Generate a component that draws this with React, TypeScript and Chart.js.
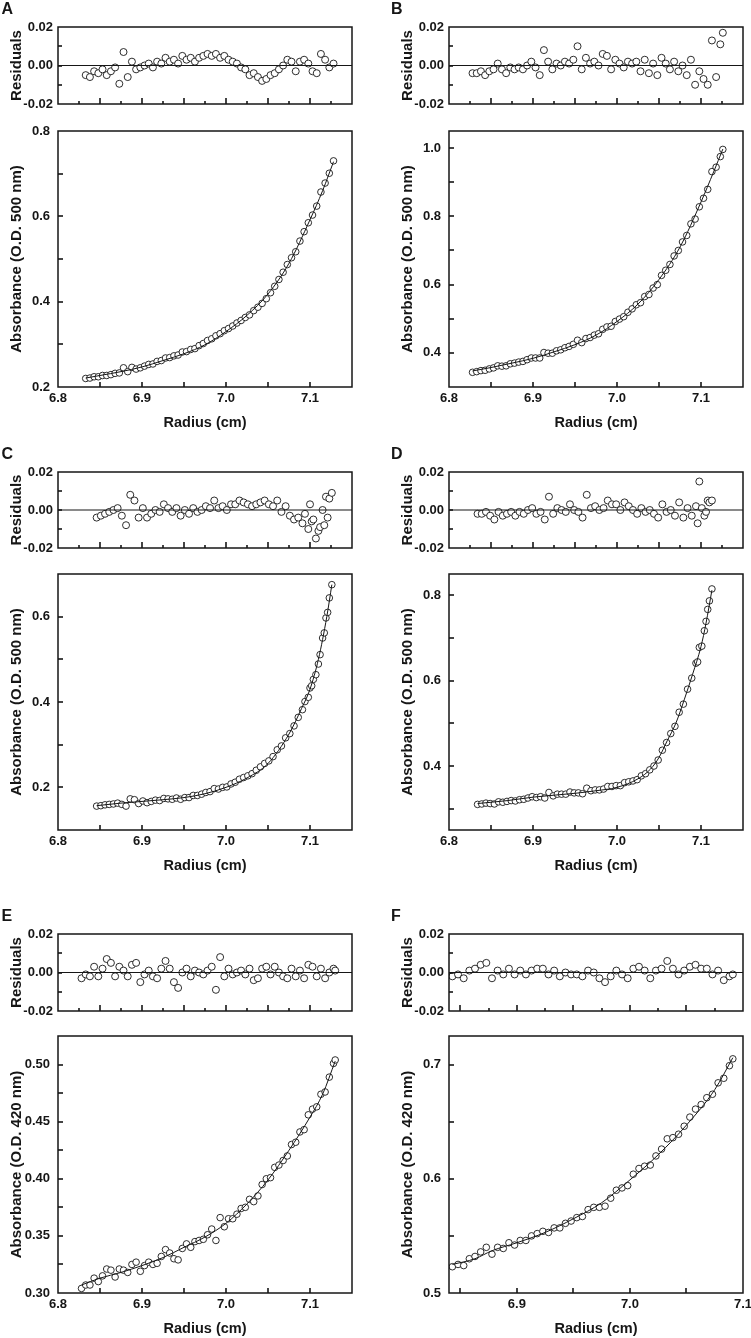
import React, { useEffect, useRef } from "react";
import { Chart, registerables } from "chart.js";

Chart.register(...registerables);

const FONT = 'Arial, "Liberation Sans", Helvetica, sans-serif';
const INK = "#161616";

// ---------- shared axis ticks ----------
const X_TICKS_MAIN = [6.8, 6.85, 6.9, 6.95, 7.0, 7.05, 7.1, 7.15];
const X_LABELS_MAIN = [6.8, 6.9, 7.0, 7.1];
const X_MAJOR_RES = [6.8, 6.85, 6.9, 6.95, 7.0, 7.05, 7.1, 7.15];
const X_MINOR_RES = [6.825, 6.875, 6.925, 6.975, 7.025, 7.075, 7.125];
const F_X_TICKS_MAIN = [6.85, 6.9, 6.95, 7.0, 7.05, 7.1];
const F_X_LABELS = [6.9, 7.0, 7.1];
const F_X_MAJOR_RES = [6.85, 6.9, 6.95, 7.0, 7.05, 7.1];
const F_X_MINOR_RES = [6.875, 6.925, 6.975, 7.025, 7.075];
const RES_Y_TICKS = [-0.02, -0.01, 0, 0.01, 0.02];
const RES_Y_LABELS = [-0.02, 0, 0.02];

// ---------- Panel A ----------
const A_RADIUS = [6.833, 6.838, 6.843, 6.848, 6.853, 6.858, 6.863, 6.868, 6.873, 6.878,
  6.883, 6.888, 6.893, 6.898, 6.903, 6.908, 6.913, 6.918, 6.923, 6.928,
  6.933, 6.938, 6.943, 6.948, 6.953, 6.958, 6.963, 6.968, 6.973, 6.978,
  6.983, 6.988, 6.993, 6.998, 7.003, 7.008, 7.013, 7.018, 7.023, 7.028,
  7.033, 7.038, 7.043, 7.048, 7.053, 7.058, 7.063, 7.068, 7.073, 7.078,
  7.083, 7.088, 7.093, 7.098, 7.103, 7.108, 7.113, 7.118, 7.123, 7.128];
const A_RESIDUALS = [-0.005, -0.006, -0.003, -0.004, -0.002, -0.005, -0.003, -0.001, -0.0095, 0.007,
  -0.006, 0.002, -0.002, -0.001, 0.0, 0.001, -0.001, 0.002, 0.001, 0.004,
  0.002, 0.003, 0.001, 0.005, 0.003, 0.004, 0.002, 0.004, 0.005, 0.006,
  0.005, 0.006, 0.004, 0.005, 0.003, 0.002, 0.001, -0.001, -0.002, -0.005,
  -0.004, -0.006, -0.008, -0.007, -0.005, -0.004, -0.002, 0.0, 0.003, 0.002,
  -0.003, 0.002, 0.003, 0.001, -0.003, -0.004, 0.006, 0.003, -0.001, 0.001];
const A_ABSORBANCE = [0.220, 0.221, 0.224, 0.224, 0.227, 0.227, 0.229, 0.232, 0.233, 0.245,
  0.236, 0.246, 0.242, 0.245, 0.249, 0.253, 0.254, 0.260, 0.262, 0.268,
  0.269, 0.273, 0.275, 0.282, 0.283, 0.288, 0.290, 0.297, 0.302, 0.309,
  0.313, 0.320, 0.325, 0.332, 0.337, 0.343, 0.350, 0.356, 0.363, 0.369,
  0.379, 0.387, 0.396, 0.407, 0.421, 0.436, 0.452, 0.469, 0.487, 0.503,
  0.517, 0.542, 0.564, 0.585, 0.603, 0.624, 0.657, 0.678, 0.701, 0.730];
const A_FIT_RADIUS = [6.833, 6.85, 6.875, 6.9, 6.925, 6.95, 6.975, 7.0, 7.025, 7.05, 7.075, 7.1, 7.115, 7.128];
const A_FIT_ABSORBANCE = [0.221, 0.227, 0.236, 0.247, 0.262, 0.278, 0.299, 0.330, 0.368, 0.418, 0.49, 0.592, 0.66, 0.728];
const A_Y_TICKS = [0.2, 0.3, 0.4, 0.5, 0.6, 0.7, 0.8];
const A_Y_LABELS = [0.2, 0.4, 0.6, 0.8];

// ---------- Panel B ----------
const B_RADIUS = [6.828, 6.833, 6.838, 6.843, 6.848, 6.853, 6.858, 6.863, 6.868, 6.873,
  6.878, 6.883, 6.888, 6.893, 6.898, 6.903, 6.908, 6.913, 6.918, 6.923,
  6.928, 6.933, 6.938, 6.943, 6.948, 6.953, 6.958, 6.963, 6.968, 6.973,
  6.978, 6.983, 6.988, 6.993, 6.998, 7.003, 7.008, 7.013, 7.018, 7.023,
  7.028, 7.033, 7.038, 7.043, 7.048, 7.053, 7.058, 7.063, 7.068, 7.073,
  7.078, 7.083, 7.088, 7.093, 7.098, 7.103, 7.108, 7.113, 7.118, 7.123, 7.126];
const B_RESIDUALS = [-0.004, -0.004, -0.003, -0.005, -0.003, -0.002, 0.001, -0.002, -0.004, -0.001,
  -0.002, -0.001, -0.002, 0.0, 0.002, -0.001, -0.005, 0.008, 0.002, -0.002,
  0.001, 0.0, 0.002, 0.001, 0.003, 0.010, -0.002, 0.004, 0.001, 0.002,
  0.0, 0.006, 0.005, -0.002, 0.003, 0.001, -0.001, 0.002, 0.001, 0.002,
  -0.003, 0.003, -0.004, 0.001, -0.005, 0.004, 0.001, -0.002, 0.002, -0.003,
  0.0, -0.005, 0.003, -0.010, -0.003, -0.007, -0.010, 0.013, -0.006, 0.011, 0.017];
const B_ABSORBANCE = [0.343, 0.345, 0.348, 0.349, 0.353, 0.356, 0.362, 0.361, 0.362, 0.368,
  0.370, 0.373, 0.375, 0.380, 0.385, 0.385, 0.385, 0.401, 0.399, 0.399,
  0.406, 0.409, 0.415, 0.419, 0.425, 0.437, 0.430, 0.442, 0.445, 0.452,
  0.456, 0.469, 0.476, 0.478, 0.492, 0.499, 0.506, 0.519, 0.529, 0.541,
  0.547, 0.565, 0.571, 0.590, 0.600, 0.627, 0.642, 0.659, 0.684, 0.700,
  0.725, 0.744, 0.778, 0.792, 0.828, 0.853, 0.879, 0.931, 0.944, 0.975, 0.996];
const B_FIT_RADIUS = [6.828, 6.85, 6.875, 6.9, 6.925, 6.95, 6.975, 7.0, 7.025, 7.05, 7.075, 7.1, 7.115, 7.126];
const B_FIT_ABSORBANCE = [0.347, 0.357, 0.370, 0.384, 0.403, 0.424, 0.452, 0.492, 0.543, 0.615, 0.71, 0.842, 0.93, 0.997];
const B_Y_TICKS = [0.3, 0.4, 0.5, 0.6, 0.7, 0.8, 0.9, 1.0];
const B_Y_LABELS = [0.4, 0.6, 0.8, 1.0];

// ---------- Panel C ----------
const C_RADIUS = [6.846, 6.851, 6.856, 6.861, 6.866, 6.871, 6.876, 6.881, 6.886, 6.891,
  6.896, 6.901, 6.906, 6.911, 6.916, 6.921, 6.926, 6.931, 6.936, 6.941,
  6.946, 6.951, 6.956, 6.961, 6.966, 6.971, 6.976, 6.981, 6.986, 6.991,
  6.996, 7.001, 7.006, 7.011, 7.016, 7.021, 7.026, 7.031, 7.036, 7.041,
  7.046, 7.051, 7.056, 7.061, 7.066, 7.071, 7.076, 7.081, 7.086,
  7.091, 7.094, 7.098, 7.100, 7.102, 7.104, 7.107, 7.110, 7.112, 7.115, 7.117, 7.119, 7.121, 7.123, 7.126];
const C_RESIDUALS = [-0.004, -0.003, -0.002, -0.001, 0.0, 0.001, -0.003, -0.008, 0.008, 0.005,
  -0.004, 0.001, -0.004, -0.002, 0.0, -0.001, 0.003, 0.001, -0.001, 0.001,
  -0.003, 0.0, -0.002, 0.001, -0.001, 0.0, 0.002, 0.001, 0.005, 0.001,
  0.002, 0.0, 0.003, 0.003, 0.005, 0.004, 0.003, 0.002, 0.003, 0.004,
  0.005, 0.003, 0.002, 0.005, -0.001, 0.002, -0.003, -0.005, -0.004,
  -0.007, -0.002, -0.010, 0.003, -0.006, -0.005, -0.015, -0.011, -0.009, 0.0, -0.008, 0.007, -0.004, 0.006, 0.009];
const C_ABSORBANCE = [0.156, 0.157, 0.159, 0.160, 0.161, 0.163, 0.160, 0.156, 0.173, 0.171,
  0.162, 0.168, 0.164, 0.167, 0.170, 0.169, 0.174, 0.173, 0.172, 0.175,
  0.172, 0.176, 0.176, 0.181, 0.181, 0.184, 0.188, 0.190, 0.197, 0.196,
  0.200, 0.201, 0.208, 0.212, 0.219, 0.223, 0.227, 0.232, 0.240, 0.248,
  0.256, 0.262, 0.272, 0.288, 0.297, 0.316, 0.326, 0.344, 0.364,
  0.382, 0.401, 0.411, 0.433, 0.438, 0.453, 0.464, 0.489, 0.511, 0.550, 0.562, 0.597, 0.610, 0.644, 0.675];
const C_FIT_RADIUS = [6.846, 6.875, 6.9, 6.925, 6.95, 6.975, 7.0, 7.025, 7.05, 7.075, 7.09, 7.1, 7.11, 7.12, 7.126];
const C_FIT_ABSORBANCE = [0.157, 0.163, 0.167, 0.171, 0.176, 0.185, 0.200, 0.222, 0.256, 0.325, 0.385, 0.43, 0.50, 0.60, 0.675];
const C_Y_TICKS = [0.1, 0.2, 0.3, 0.4, 0.5, 0.6, 0.7];
const C_Y_LABELS = [0.2, 0.4, 0.6];

// ---------- Panel D ----------
const D_RADIUS = [6.834, 6.839, 6.844, 6.849, 6.854, 6.859, 6.864, 6.869, 6.874, 6.879,
  6.884, 6.889, 6.894, 6.899, 6.904, 6.909, 6.914, 6.919, 6.924, 6.929,
  6.934, 6.939, 6.944, 6.949, 6.954, 6.959, 6.964, 6.969, 6.974, 6.979,
  6.984, 6.989, 6.994, 6.999, 7.004, 7.009, 7.014, 7.019, 7.024, 7.029,
  7.034, 7.039, 7.044, 7.049, 7.054, 7.059, 7.064, 7.069, 7.074, 7.079,
  7.084, 7.089, 7.094,
  7.096, 7.098, 7.101, 7.104, 7.106, 7.108, 7.110, 7.113];
const D_RESIDUALS = [-0.002, -0.002, -0.001, -0.003, -0.005, -0.001, -0.003, -0.002, -0.001, -0.003,
  -0.001, -0.002, 0.0, 0.001, -0.002, -0.001, -0.005, 0.007, -0.002, 0.001,
  0.0, -0.001, 0.003, 0.0, -0.001, -0.004, 0.008, 0.001, 0.002, 0.0,
  0.001, 0.005, 0.003, 0.003, 0.0, 0.004, 0.002, 0.0, -0.002, 0.001,
  -0.001, 0.0, -0.002, -0.004, 0.003, -0.001, 0.0, -0.003, 0.004, -0.004,
  0.001, -0.003, 0.002,
  -0.007, 0.015, 0.001, -0.003, -0.001, 0.005, 0.004, 0.005];
const D_ABSORBANCE = [0.310, 0.311, 0.313, 0.312, 0.311, 0.316, 0.315, 0.317, 0.319, 0.318,
  0.321, 0.322, 0.325, 0.328, 0.326, 0.328, 0.325, 0.338, 0.330, 0.334,
  0.334, 0.334, 0.339, 0.337, 0.337, 0.335, 0.348, 0.342, 0.344, 0.344,
  0.346, 0.352, 0.352, 0.354, 0.354, 0.361, 0.363, 0.365, 0.368, 0.377,
  0.382, 0.391, 0.400, 0.414, 0.437, 0.455, 0.476, 0.493, 0.526, 0.545,
  0.580, 0.606, 0.641,
  0.644, 0.678, 0.681, 0.717, 0.739, 0.767, 0.787, 0.815];
const D_FIT_RADIUS = [6.834, 6.87, 6.9, 6.95, 6.975, 7.0, 7.025, 7.04, 7.05, 7.06, 7.07, 7.08, 7.09, 7.1, 7.106, 7.113];
const D_FIT_ABSORBANCE = [0.312, 0.319, 0.327, 0.336, 0.342, 0.35, 0.370, 0.393, 0.42, 0.46, 0.50, 0.555, 0.615, 0.68, 0.735, 0.812];
const D_Y_TICKS = [0.3, 0.4, 0.5, 0.6, 0.7, 0.8];
const D_Y_LABELS = [0.4, 0.6, 0.8];

// ---------- Panel E ----------
const E_RADIUS = [6.828, 6.833, 6.838, 6.843, 6.848, 6.853, 6.858, 6.863, 6.868, 6.873,
  6.878, 6.883, 6.888, 6.893, 6.898, 6.903, 6.908, 6.913, 6.918, 6.923,
  6.928, 6.933, 6.938, 6.943, 6.948, 6.953, 6.958, 6.963, 6.968, 6.973,
  6.978, 6.983, 6.988, 6.993, 6.998, 7.003, 7.008, 7.013, 7.018, 7.023,
  7.028, 7.033, 7.038, 7.043, 7.048, 7.053, 7.058, 7.063, 7.068, 7.073,
  7.078, 7.083, 7.088, 7.093, 7.098, 7.103, 7.108, 7.113, 7.118, 7.123,
  7.128, 7.130];
const E_RESIDUALS = [-0.003, -0.001, -0.002, 0.003, -0.002, 0.002, 0.007, 0.005, -0.002, 0.003,
  0.001, -0.002, 0.004, 0.005, -0.005, -0.001, 0.001, -0.002, -0.003, 0.002,
  0.006, 0.002, -0.005, -0.008, 0.0, 0.002, -0.002, 0.001, 0.0, -0.001,
  0.001, 0.003, -0.009, 0.008, -0.002, 0.002, -0.001, 0.0, 0.001, -0.001,
  0.002, -0.004, -0.003, 0.002, 0.003, -0.001, 0.003, 0.0, -0.002, -0.003,
  0.002, -0.002, 0.001, -0.003, 0.004, 0.003, -0.002, 0.002, -0.003, 0.0,
  0.002, 0.001];
const E_ABSORBANCE = [0.304, 0.307, 0.307, 0.313, 0.310, 0.315, 0.321, 0.320, 0.314, 0.321,
  0.320, 0.318, 0.325, 0.327, 0.319, 0.324, 0.327, 0.325, 0.326, 0.332,
  0.338, 0.335, 0.330, 0.329, 0.339, 0.343, 0.340, 0.345, 0.346, 0.347,
  0.351, 0.356, 0.346, 0.366, 0.358, 0.365, 0.365, 0.369, 0.374, 0.375,
  0.382, 0.380, 0.385, 0.395, 0.400, 0.401, 0.410, 0.412, 0.416, 0.420,
  0.430, 0.432, 0.441, 0.443, 0.456, 0.461, 0.463, 0.474, 0.476, 0.489,
  0.501, 0.504];
const E_FIT_RADIUS = [6.828, 6.85, 6.875, 6.9, 6.925, 6.95, 6.975, 7.0, 7.025, 7.05, 7.075, 7.1, 7.115, 7.13];
const E_FIT_ABSORBANCE = [0.307, 0.313, 0.318, 0.324, 0.331, 0.340, 0.349, 0.361, 0.378, 0.399, 0.425, 0.454, 0.474, 0.503];
const E_Y_TICKS = [0.3, 0.325, 0.35, 0.375, 0.4, 0.425, 0.45, 0.475, 0.5];
const E_Y_LABELS = [0.3, 0.35, 0.4, 0.45, 0.5];

// ---------- Panel F ----------
const F_RADIUS = [6.843, 6.848, 6.853, 6.858, 6.863, 6.868, 6.873, 6.878, 6.883, 6.888,
  6.893, 6.898, 6.903, 6.908, 6.913, 6.918, 6.923, 6.928, 6.933, 6.938,
  6.943, 6.948, 6.953, 6.958, 6.963, 6.968, 6.973, 6.978, 6.983, 6.988,
  6.993, 6.998, 7.003, 7.008, 7.013, 7.018, 7.023, 7.028, 7.033, 7.038,
  7.043, 7.048, 7.053, 7.058, 7.063, 7.068, 7.073, 7.078, 7.083, 7.088, 7.091];
const F_RESIDUALS = [-0.002, -0.001, -0.003, 0.001, 0.002, 0.004, 0.005, -0.003, 0.001, -0.001,
  0.002, -0.001, 0.001, -0.001, 0.001, 0.002, 0.002, -0.001, 0.001, -0.002,
  0.0, -0.001, -0.001, -0.002, 0.001, 0.0, -0.003, -0.005, -0.002, 0.001,
  -0.001, -0.003, 0.002, 0.003, 0.001, -0.003, 0.001, 0.002, 0.006, 0.002,
  -0.001, 0.001, 0.003, 0.004, 0.002, 0.002, -0.001, 0.001, -0.004, -0.002, -0.001];
const F_ABSORBANCE = [0.523, 0.525, 0.524, 0.530, 0.532, 0.536, 0.540, 0.534, 0.540, 0.539,
  0.544, 0.542, 0.546, 0.546, 0.550, 0.552, 0.554, 0.553, 0.557, 0.557,
  0.561, 0.563, 0.566, 0.567, 0.573, 0.575, 0.575, 0.576, 0.583, 0.590,
  0.592, 0.594, 0.604, 0.609, 0.611, 0.612, 0.620, 0.626, 0.635, 0.636,
  0.639, 0.646, 0.654, 0.661, 0.665, 0.671, 0.674, 0.684, 0.688, 0.699, 0.705];
const F_FIT_RADIUS = [6.843, 6.863, 6.878, 6.9, 6.925, 6.95, 6.975, 7.0, 7.025, 7.05, 7.075, 7.091];
const F_FIT_ABSORBANCE = [0.525, 0.530, 0.537, 0.544, 0.553, 0.565, 0.579, 0.599, 0.621, 0.647, 0.678, 0.706];
const F_Y_TICKS = [0.5, 0.55, 0.6, 0.65, 0.7];
const F_Y_LABELS = [0.5, 0.6, 0.7];

const TITLE_500 = "Absorbance (O.D. 500 nm)";
const TITLE_420 = "Absorbance (O.D. 420 nm)";

type Spec = {
  letter: string; col: 0 | 1;
  resTop: number; resH: number; mainTop: number; mainH: number;
  xMin: number; xMax: number; yMin: number; yMax: number;
  xTicksMain: number[]; xLabels: number[]; xMajorRes: number[]; xMinorRes: number[];
  yTicks: number[]; yLabels: number[]; yDigits: number; yTitle: string;
  radius: number[]; residuals: number[]; absorbance: number[];
  fitR: number[]; fitA: number[];
};

const PANELS: Spec[] = [
  { letter: "A", col: 0, resTop: 27, resH: 77, mainTop: 131, mainH: 256, xMin: 6.8, xMax: 7.15, yMin: 0.2, yMax: 0.8,
    xTicksMain: X_TICKS_MAIN, xLabels: X_LABELS_MAIN, xMajorRes: X_MAJOR_RES, xMinorRes: X_MINOR_RES, yTicks: A_Y_TICKS, yLabels: A_Y_LABELS, yDigits: 1, yTitle: TITLE_500,
    radius: A_RADIUS, residuals: A_RESIDUALS, absorbance: A_ABSORBANCE, fitR: A_FIT_RADIUS, fitA: A_FIT_ABSORBANCE },
  { letter: "B", col: 1, resTop: 27, resH: 77, mainTop: 131, mainH: 256, xMin: 6.8, xMax: 7.15, yMin: 0.3, yMax: 1.05,
    xTicksMain: X_TICKS_MAIN, xLabels: X_LABELS_MAIN, xMajorRes: X_MAJOR_RES, xMinorRes: X_MINOR_RES, yTicks: B_Y_TICKS, yLabels: B_Y_LABELS, yDigits: 1, yTitle: TITLE_500,
    radius: B_RADIUS, residuals: B_RESIDUALS, absorbance: B_ABSORBANCE, fitR: B_FIT_RADIUS, fitA: B_FIT_ABSORBANCE },
  { letter: "C", col: 0, resTop: 472, resH: 76, mainTop: 574, mainH: 256, xMin: 6.8, xMax: 7.15, yMin: 0.1, yMax: 0.7,
    xTicksMain: X_TICKS_MAIN, xLabels: X_LABELS_MAIN, xMajorRes: X_MAJOR_RES, xMinorRes: X_MINOR_RES, yTicks: C_Y_TICKS, yLabels: C_Y_LABELS, yDigits: 1, yTitle: TITLE_500,
    radius: C_RADIUS, residuals: C_RESIDUALS, absorbance: C_ABSORBANCE, fitR: C_FIT_RADIUS, fitA: C_FIT_ABSORBANCE },
  { letter: "D", col: 1, resTop: 472, resH: 76, mainTop: 574, mainH: 256, xMin: 6.8, xMax: 7.15, yMin: 0.25, yMax: 0.85,
    xTicksMain: X_TICKS_MAIN, xLabels: X_LABELS_MAIN, xMajorRes: X_MAJOR_RES, xMinorRes: X_MINOR_RES, yTicks: D_Y_TICKS, yLabels: D_Y_LABELS, yDigits: 1, yTitle: TITLE_500,
    radius: D_RADIUS, residuals: D_RESIDUALS, absorbance: D_ABSORBANCE, fitR: D_FIT_RADIUS, fitA: D_FIT_ABSORBANCE },
  { letter: "E", col: 0, resTop: 934, resH: 77, mainTop: 1036, mainH: 257, xMin: 6.8, xMax: 7.15, yMin: 0.3, yMax: 0.525,
    xTicksMain: X_TICKS_MAIN, xLabels: X_LABELS_MAIN, xMajorRes: X_MAJOR_RES, xMinorRes: X_MINOR_RES, yTicks: E_Y_TICKS, yLabels: E_Y_LABELS, yDigits: 2, yTitle: TITLE_420,
    radius: E_RADIUS, residuals: E_RESIDUALS, absorbance: E_ABSORBANCE, fitR: E_FIT_RADIUS, fitA: E_FIT_ABSORBANCE },
  { letter: "F", col: 1, resTop: 934, resH: 77, mainTop: 1036, mainH: 257, xMin: 6.84, xMax: 7.1, yMin: 0.5, yMax: 0.725,
    xTicksMain: F_X_TICKS_MAIN, xLabels: F_X_LABELS, xMajorRes: F_X_MAJOR_RES, xMinorRes: F_X_MINOR_RES, yTicks: F_Y_TICKS, yLabels: F_Y_LABELS, yDigits: 1, yTitle: TITLE_420,
    radius: F_RADIUS, residuals: F_RESIDUALS, absorbance: F_ABSORBANCE, fitR: F_FIT_RADIUS, fitA: F_FIT_ABSORBANCE },
];

const PLOT_W = 294;
const AXIS_W = 58;
const PAD_T = 24;
const PAD_R = 24;

const near = (list: number[], v: number) => list.some((x) => Math.abs(x - v) < 1e-6);

// Inward tick marks (positions from the chart's own scales) and a full box frame.
function makeFrame(xMajor: number[], xMinor: number[], yTicks: number[], xLen: number, xMinorLen: number, yLen: number) {
  return {
    id: "frameTicks",
    afterDraw(chart: any) {
      const ctx = chart.ctx;
      const area = chart.chartArea;
      const xs = chart.scales.x;
      const ys = chart.scales.y;
      ctx.save();
      ctx.strokeStyle = INK;
      ctx.lineWidth = 1.6;
      ctx.lineCap = "butt";
      const xLine = (v: number, len: number) => {
        const px = Math.round(xs.getPixelForValue(v));
        if (!(px > area.left + 1 && px < area.right - 1)) return;
        ctx.beginPath();
        ctx.moveTo(px, area.bottom);
        ctx.lineTo(px, area.bottom - len);
        ctx.stroke();
      };
      xMajor.forEach((v) => xLine(v, xLen));
      xMinor.forEach((v) => xLine(v, xMinorLen));
      yTicks.forEach((v) => {
        const py = Math.round(ys.getPixelForValue(v));
        if (!(py > area.top + 1 && py < area.bottom - 1)) return;
        ctx.beginPath();
        ctx.moveTo(area.left, py);
        ctx.lineTo(area.left + yLen, py);
        ctx.stroke();
      });
      ctx.lineWidth = 1.5;
      ctx.strokeRect(area.left, area.top, area.right - area.left, area.bottom - area.top);
      ctx.restore();
    },
  };
}

function Plot({ spec, kind }: { spec: Spec; kind: "res" | "main" }) {
  const ref = useRef<HTMLCanvasElement>(null);
  const isRes = kind === "res";
  const plotLeft = spec.col === 0 ? 58 : 449;
  const plotTop = isRes ? spec.resTop : spec.mainTop;
  const plotH = isRes ? spec.resH : spec.mainH;
  const bottomH = isRes ? 24 : 45;
  const left = plotLeft - AXIS_W;
  const top = plotTop - PAD_T;
  const w = AXIS_W + PLOT_W + PAD_R;
  const h = PAD_T + plotH + bottomH;

  useEffect(() => {
    if (!ref.current) return;
    const yTicks = isRes ? RES_Y_TICKS : spec.yTicks;
    const yLabels = isRes ? RES_Y_LABELS : spec.yLabels;
    const yDigits = isRes ? 2 : spec.yDigits;
    const xTicks = isRes ? spec.xMajorRes : spec.xTicksMain;
    const pointStyle = {
      showLine: false,
      pointRadius: isRes ? 3.5 : 3.3,
      pointBorderWidth: 0.9,
      pointBorderColor: INK,
      pointBackgroundColor: "#ffffff",
      borderColor: INK,
      backgroundColor: "#ffffff",
    };
    const datasets: any[] = isRes
      ? [
          { label: "zero", data: [{ x: spec.xMin, y: 0 }, { x: spec.xMax, y: 0 }], showLine: true, borderColor: INK, borderWidth: 1.1, pointRadius: 0 },
          { label: "residuals", data: spec.radius.map((r, i) => ({ x: r, y: spec.residuals[i] })), ...pointStyle },
        ]
      : [
          { label: "fit", data: spec.fitR.map((r, i) => ({ x: r, y: spec.fitA[i] })), showLine: true, borderColor: INK, borderWidth: 1, pointRadius: 0, cubicInterpolationMode: "monotone" },
          { label: "absorbance", data: spec.radius.map((r, i) => ({ x: r, y: spec.absorbance[i] })), ...pointStyle },
        ];
    const tickFont = { family: FONT, size: 13, weight: "bold" as const };
    const chart = new Chart(ref.current, {
      type: "scatter",
      data: { datasets },
      options: {
        responsive: false,
        maintainAspectRatio: false,
        animation: false,
        devicePixelRatio: 1,
        events: [],
        layout: { padding: { top: PAD_T, right: PAD_R, left: 0, bottom: 0 } },
        plugins: { legend: { display: false }, tooltip: { enabled: false }, title: { display: false } },
        scales: {
          x: {
            type: "linear",
            position: "bottom",
            min: spec.xMin,
            max: spec.xMax,
            afterBuildTicks: (s: any) => { s.ticks = xTicks.map((v) => ({ value: v })); },
            afterFit: (s: any) => { s.height = bottomH; },
            grid: { display: false, drawTicks: false },
            border: { display: false },
            ticks: {
              display: !isRes,
              autoSkip: false,
              maxRotation: 0,
              padding: 4,
              color: INK,
              font: tickFont,
              callback: (v: any) => (near(spec.xLabels, Number(v)) ? Number(v).toFixed(1) : ""),
            },
            title: {
              display: !isRes,
              text: "Radius (cm)",
              color: INK,
              font: { family: FONT, size: 14.5, weight: "bold" },
              padding: { top: 0, bottom: 0 },
            },
          },
          y: {
            type: "linear",
            position: "left",
            min: isRes ? -0.02 : spec.yMin,
            max: isRes ? 0.02 : spec.yMax,
            afterBuildTicks: (s: any) => { s.ticks = yTicks.map((v) => ({ value: v })); },
            afterFit: (s: any) => { s.width = AXIS_W; },
            grid: { display: false, drawTicks: false },
            border: { display: false },
            ticks: {
              autoSkip: false,
              padding: isRes ? 5 : 8,
              color: INK,
              font: tickFont,
              callback: (v: any) => (near(yLabels, Number(v)) ? Number(v).toFixed(yDigits) : ""),
            },
            title: {
              display: true,
              text: isRes ? "Residuals" : spec.yTitle,
              color: INK,
              font: { family: FONT, size: 15, weight: "bold" },
              padding: { top: 8, bottom: 0 },
            },
          },
        },
      } as any,
      plugins: [
        isRes
          ? makeFrame(spec.xMajorRes, spec.xMinorRes, RES_Y_TICKS, 6, 3, 4)
          : makeFrame(spec.xTicksMain, [], spec.yTicks, 5, 5, 5),
      ],
    });
    return () => chart.destroy();
  }, []);

  return (
    <canvas
      ref={ref}
      width={w}
      height={h}
      style={{ position: "absolute", left, top, width: w, height: h }}
    />
  );
}

export default function App() {
  return (
    <div
      style={{
        position: "absolute",
        left: 0,
        top: 0,
        width: 751,
        height: 1338,
        overflow: "hidden",
        background: "#ffffff",
      }}
    >
      {PANELS.map((p) => (
        <React.Fragment key={p.letter}>
          <div
            style={{
              position: "absolute",
              left: p.col === 0 ? 1.5 : 391,
              top: p.resTop - 26,
              fontFamily: FONT,
              fontWeight: "bold",
              fontSize: 16,
              lineHeight: "16px",
              color: INK,
              zIndex: 2,
            }}
          >
            {p.letter}
          </div>
          <Plot spec={p} kind="res" />
          <Plot spec={p} kind="main" />
        </React.Fragment>
      ))}
    </div>
  );
}
